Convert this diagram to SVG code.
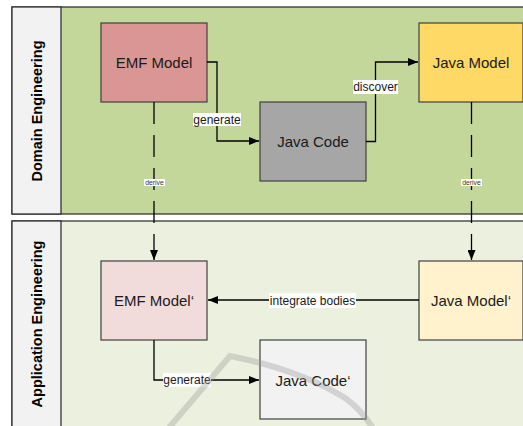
<svg xmlns="http://www.w3.org/2000/svg" width="523" height="426" viewBox="0 0 523 426">
<style>
.lane{stroke:#262626;stroke-width:1.2}
.lbl{fill:#f2f2f2;stroke:#262626;stroke-width:1.2}
.lanetxt{font-family:"Liberation Sans",Arial,sans-serif;font-weight:bold;font-size:14.5px;fill:#000;text-anchor:middle}
.box{stroke:#404040;stroke-width:1.2}
.ntxt{font-family:"Liberation Sans",Arial,sans-serif;font-size:15px;fill:#1a1a1a;text-anchor:middle;dominant-baseline:central}
.edge{fill:none;stroke:#000;stroke-width:1.3}
.dash{stroke-dasharray:22,11}
.etxt{font-family:"Liberation Sans",Arial,sans-serif;font-size:12px;fill:#1a1a1a;text-anchor:middle;dominant-baseline:central}
.stxt{font-family:"Liberation Sans",Arial,sans-serif;font-size:6.8px;fill:#333;text-anchor:middle;dominant-baseline:central}
.bg{fill:#fff}
</style>
<defs>
<marker id="arr" viewBox="0 0 10 8" refX="10" refY="4" markerWidth="10" markerHeight="8" markerUnits="userSpaceOnUse" orient="auto">
<path d="M0,0 L10,4 L0,8 z" fill="#000"/>
</marker>
</defs>
<rect width="523" height="426" fill="#fff"/>
<g id="lane-domain">
<rect class="lane" x="12" y="7" width="520" height="207" fill="#c4d79b"/>
<rect class="lbl" x="12" y="7" width="49" height="207"/>
<text class="lanetxt" transform="translate(42,111) rotate(-90)">Domain Engineering</text>
</g>
<g id="lane-application">
<rect class="lane" x="12" y="221" width="520" height="215" fill="#ebf1de"/>
<rect class="lbl" x="12" y="221" width="49" height="215"/>
<text class="lanetxt" transform="translate(42,324) rotate(-90)">Application Engineering</text>
</g>
<g id="emf-model">
<rect class="box" x="101" y="23" width="106" height="79" fill="#da9694"/>
<text class="ntxt" x="154" y="62">EMF Model</text>
</g>
<g id="java-code">
<rect class="box" x="260" y="102" width="106" height="79" fill="#a6a6a6"/>
<text class="ntxt" x="313" y="141">Java Code</text>
</g>
<g id="java-model">
<rect class="box" x="419" y="23" width="104" height="79" fill="#ffd966"/>
<text class="ntxt" x="471" y="62">Java Model</text>
</g>
<g id="emf-model-prime">
<rect class="box" x="101" y="261" width="106" height="79" fill="#f2dcdb"/>
<text class="ntxt" x="154" y="300">EMF Model‘</text>
</g>
<g id="java-model-prime">
<rect class="box" x="419" y="261" width="104" height="79" fill="#fff2cc"/>
<text class="ntxt" x="471" y="300">Java Model‘</text>
</g>
<g id="java-code-prime">
<rect class="box" x="260" y="340" width="106" height="79" fill="#f2f2f2"/>
<text class="ntxt" x="313" y="380">Java Code‘</text>
</g>
<g id="connectors">
<path class="edge" d="M207,62 H217 V141 H259" marker-end="url(#arr)"/>
<rect class="bg" x="193" y="113" width="48" height="13"/>
<text class="etxt" x="217" y="119.5">generate</text>
<path class="edge" d="M366,141.5 H375.5 V62 H418" marker-end="url(#arr)"/>
<rect class="bg" x="353" y="80" width="45" height="14"/>
<text class="etxt" x="375.5" y="87">discover</text>
<path class="edge dash" d="M154,102 V238"/>
<path class="edge" d="M154,238 V260" marker-end="url(#arr)"/>
<rect class="bg" x="144" y="179" width="21" height="7"/>
<text class="stxt" x="154.5" y="182.5">derive</text>
<path class="edge dash" d="M471.5,102 V238"/>
<path class="edge" d="M471.5,238 V260" marker-end="url(#arr)"/>
<rect class="bg" x="461" y="179" width="21" height="7"/>
<text class="stxt" x="471.5" y="182.5">derive</text>
<path class="edge" d="M419,300 H208" marker-end="url(#arr)"/>
<rect class="bg" x="269" y="293" width="87" height="15"/>
<text class="etxt" x="312.5" y="300.5">integrate bodies</text>
<path class="edge" d="M154,340 V380 H259" marker-end="url(#arr)"/>
<rect class="bg" x="163" y="373" width="48" height="14"/>
<text class="etxt" x="187" y="380">generate</text>
</g>
<path id="watermark" d="M167,430 L230,356 Q300,370 345,398 Q362,410 374,430" fill="none" stroke="#999" stroke-width="6" opacity="0.35"/>
</svg>
